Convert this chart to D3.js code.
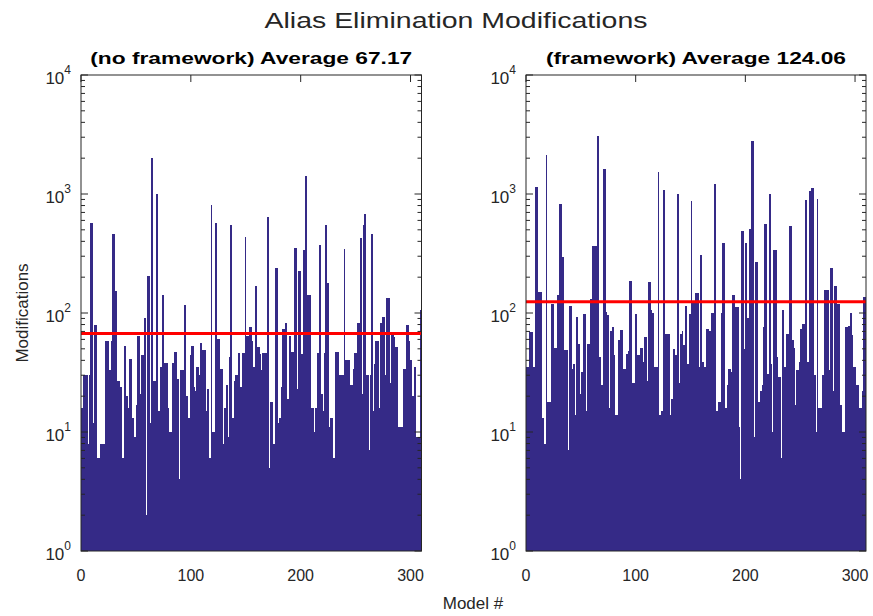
<!DOCTYPE html>
<html>
<head>
<meta charset="UTF-8">
<title>Alias Elimination Modifications</title>
<script src="https://cdnjs.cloudflare.com/ajax/libs/d3/7.8.5/d3.min.js"></script>
<style>
body { margin: 0; background: #fff; }
text { font-family: "Liberation Sans", Arial, Helvetica, sans-serif; fill: #262626; }
.bar { fill: #352a87; shape-rendering: crispEdges; }
.box { fill: none; stroke: #262626; stroke-width: 1; }
.tick { stroke: #262626; stroke-width: 1; }
.avg { stroke: #ff0000; stroke-width: 3; }
</style>
</head>
<body>
<div id="chart"></div>
<script>
// modifications per model, no framework (left)
var noFramework = [
  16,16,30,30,30,30,8,30,575,575,
  12,12,80,80,6,6,6,8,8,8,
  8,5,58,58,58,33,33,58,465,465,
  152,152,20,27,27,24,24,6,6,53,
  20,20,16,16,41,41,13,13,9,9,
  17,64,64,21,21,44,44,90,90,2,
  205,205,12,12,2000,27,27,27,1000,1000,
  15,15,35,35,141,38,38,38,38,16,
  10,10,10,38,38,47,47,28,28,4,
  33,33,33,20,117,20,20,13,13,44,
  53,53,24,22,22,35,35,30,56,56,
  49,49,49,15,15,23,6,6,810,10,
  10,10,575,60,60,60,34,34,34,8,
  16,16,25,9,9,43,550,13,13,27,
  30,30,26,46,24,24,11,46,46,435,
  64,64,64,76,76,58,35,35,170,170,
  52,52,45,33,33,46,46,46,46,640,
  640,5,18,18,8,8,8,240,240,12,
  13,13,24,73,73,16,83,19,19,64,
  64,47,47,9,355,355,23,23,225,225,
  45,45,340,340,1410,7,141,141,141,16,
  16,16,10,16,16,46,46,375,21,21,
  15,46,550,178,178,11,11,13,13,6,
  6,47,47,47,27,30,30,30,30,345,
  40,40,40,40,10,25,25,25,34,46,
  46,82,82,82,430,21,21,550,680,30,
  30,30,7,30,465,15,15,37,58,58,
  58,16,83,83,92,92,30,27,134,134,
  134,26,66,66,63,52,52,52,9,11,
  11,11,11,34,34,34,79,79,58,40,
  40,20,20,35,9,9,9,9,9,107
];

// modifications per model, with framework (right)
var withFramework = [
  35,35,35,69,69,69,35,35,1150,1150,
  10,150,150,150,13,13,8,8,2130,18,
  18,18,8,120,120,51,51,51,141,141,
  830,830,295,295,19,49,49,49,7,115,
  115,34,34,37,14,14,93,55,55,21,
  32,32,98,98,15,15,55,55,131,131,
  365,365,365,365,8,3100,43,43,25,25,
  1630,1630,102,96,96,16,16,71,77,77,
  44,14,14,14,59,59,72,72,34,34,
  34,45,45,48,185,185,17,26,26,98,
  98,44,44,44,51,51,39,39,63,63,
  27,182,182,105,100,100,27,35,35,35,
  1520,14,14,15,15,1090,66,66,66,66,
  66,14,19,19,50,10,44,44,1000,26,
  66,66,71,54,54,115,37,37,7,98,
  870,121,121,121,148,148,148,35,35,310,
  39,39,35,35,74,74,71,71,71,100,
  100,1210,1210,15,15,18,18,18,100,390,
  390,16,16,25,34,34,32,32,141,141,
  44,112,112,112,11,4,490,490,50,50,
  390,91,91,510,510,2780,2780,9,9,270,
  270,18,18,22,22,25,76,560,560,21,
  31,31,1000,37,10,340,340,340,43,29,
  29,29,6,105,105,35,35,67,67,67,
  540,540,59,59,51,17,33,33,33,39,
  74,74,81,81,890,890,39,39,1070,1070,
  1120,1120,30,30,10,910,16,16,16,16,
  30,30,155,155,155,155,33,240,240,22,
  22,170,170,96,120,120,17,17,10,10,
  10,76,76,76,78,100,100,65,35,35,
  25,25,25,12,16,16,22,135,135,135
];

var averages = [67.17, 124.06];
var panelTitles = ["(no framework) Average 67.17", "(framework) Average 124.06"];
var xTicks = [0, 100, 200, 300];
var yExponents = [0, 1, 2, 3, 4];

var width = 873, height = 616;
var plotTop = 75, plotBottom = 551;
var panels = [
  {data: noFramework,   avg: averages[0], title: panelTitles[0], x0: 81,  x1: 421.5, tw: 322},
  {data: withFramework, avg: averages[1], title: panelTitles[1], x0: 526, x1: 866,   tw: 300}
];

var svg = d3.select("#chart").append("svg")
  .attr("width", width)
  .attr("height", height);

svg.append("rect").attr("width", width).attr("height", height).attr("fill", "#fff");

var y = d3.scaleLog().domain([1, 10000]).range([plotBottom, plotTop]);
var minor = y.ticks(); // 1..9 per decade

panels.forEach(function(p) {
  var x = d3.scaleLinear().domain([0, p.data.length]).range([p.x0, p.x1]);
  var g = svg.append("g");

  // bars (overlapping a little so no seams show)
  g.selectAll("rect.bar")
    .data(p.data)
    .enter().append("rect")
    .attr("class", "bar")
    .attr("x", function(d, i) { return x(i); })
    .attr("width", function(d, i) { return Math.min(x(i + 1) + 0.6, p.x1) - x(i); })
    .attr("y", function(d) { return y(d); })
    .attr("height", function(d) { return y(1) - y(d); });

  // average line
  g.append("line")
    .attr("class", "avg")
    .attr("x1", p.x0).attr("x2", p.x1)
    .attr("y1", y(p.avg)).attr("y2", y(p.avg));

  // y ticks, inside, both sides
  minor.forEach(function(v) {
    var major = Math.abs(Math.log10(v) - Math.round(Math.log10(v))) < 1e-9;
    var len = major ? 7 : 4;
    g.append("line").attr("class", "tick")
      .attr("x1", p.x0).attr("x2", p.x0 + len)
      .attr("y1", y(v)).attr("y2", y(v));
    g.append("line").attr("class", "tick")
      .attr("x1", p.x1).attr("x2", p.x1 - len)
      .attr("y1", y(v)).attr("y2", y(v));
  });

  // x ticks on top
  g.selectAll("line.xt")
    .data(xTicks)
    .enter().append("line")
    .attr("class", "tick")
    .attr("x1", function(d) { return x(d); })
    .attr("x2", function(d) { return x(d); })
    .attr("y1", plotTop).attr("y2", plotTop + 7);

  // box
  g.append("rect").attr("class", "box")
    .attr("x", p.x0).attr("y", plotTop)
    .attr("width", p.x1 - p.x0).attr("height", plotBottom - plotTop);

  // x tick labels
  g.selectAll("text.xl")
    .data(xTicks)
    .enter().append("text")
    .attr("x", function(d) { return x(d); })
    .attr("y", plotBottom + 30)
    .attr("text-anchor", "middle")
    .attr("font-size", 16)
    .text(function(d) { return d; });

  // y tick labels 10^k
  var yl = g.selectAll("text.yl")
    .data(yExponents)
    .enter().append("text")
    .attr("x", p.x0 - 10)
    .attr("y", function(d) { return y(Math.pow(10, d)) + 9; })
    .attr("text-anchor", "end")
    .attr("font-size", 17);
  yl.append("tspan").text("10");
  yl.append("tspan")
    .attr("dy", -10)
    .attr("font-size", 12)
    .text(function(d) { return d; });

  // panel title
  g.append("text")
    .attr("x", (p.x0 + p.x1) / 2)
    .attr("y", 64)
    .attr("text-anchor", "middle")
    .attr("font-size", 17)
    .attr("font-weight", "bold")
    .style("fill", "#000")
    .attr("textLength", p.tw)
    .attr("lengthAdjust", "spacingAndGlyphs")
    .text(p.title);
});

// figure title
svg.append("text")
  .attr("x", 456)
  .attr("y", 28)
  .attr("text-anchor", "middle")
  .attr("font-size", 22)
  .attr("textLength", 383)
  .attr("lengthAdjust", "spacingAndGlyphs")
  .text("Alias Elimination Modifications");

// axis labels
svg.append("text")
  .attr("x", 473)
  .attr("y", 609)
  .attr("text-anchor", "middle")
  .attr("font-size", 17)
  .text("Model #");

svg.append("text")
  .attr("transform", "translate(28,313) rotate(-90)")
  .attr("text-anchor", "middle")
  .attr("font-size", 17)
  .text("Modifications");
</script>
</body>
</html>
